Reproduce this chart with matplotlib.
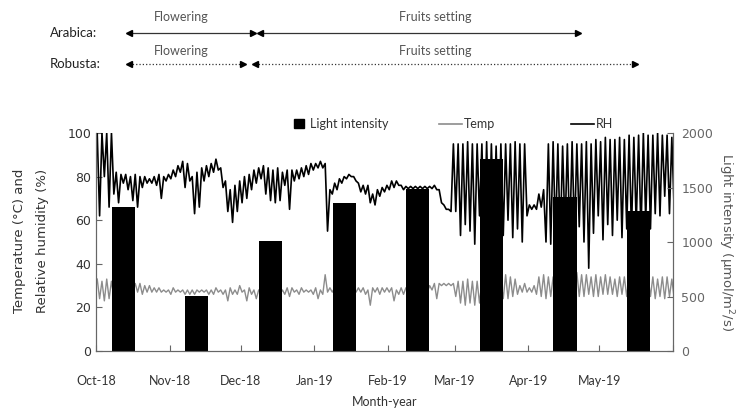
import matplotlib
matplotlib.use("Agg")
import matplotlib.pyplot as plt
import matplotlib.transforms as mtransforms
from matplotlib.lines import Line2D
from matplotlib.patches import Patch
import numpy as np

# RH (%) and Temp (C): high / low per 2-day block, starting 1 Oct 2018
rh_hi = [100, 100, 100, 100, 82,
         81, 81, 80, 81, 80, 80, 79, 80, 81, 80, 81,
         83, 85, 87, 86, 80, 82, 84, 85, 86, 88, 84, 78, 74,
         76, 78, 80, 81, 83, 84, 85, 84, 83, 84, 82, 83,
         83, 83, 84, 85, 86, 86, 87, 86,
         74, 77, 79, 80, 81, 80, 77, 76, 76, 72, 74,
         75, 76, 78, 78, 76, 75.5, 75.5, 75.5, 75.5, 75.5, 75.5,
         76, 74, 67, 65, 95,
         95, 95, 96, 95, 95, 95, 96, 95, 94, 95, 95, 95, 96, 95, 95,
         67, 67, 72, 74,
         95, 96, 95, 94, 95, 96, 95, 95, 96, 95,
         97, 96, 98, 97, 97, 98, 97,
         99, 98, 99, 100, 99, 99, 100, 99, 99, 98]
rh_lo = [62, 80, 66, 72, 68,
         77, 74, 69, 66, 75, 77, 77, 76, 70, 78, 79,
         80, 82, 75, 78, 63, 66, 78, 80, 82, 83, 75, 64, 59,
         64, 68, 70, 74, 77, 79, 72, 69, 68, 69, 76, 65,
         78, 79, 80, 81, 83, 84, 84, 55,
         72, 74, 77, 79, 80, 78, 73, 72, 68, 67, 71,
         73, 74, 75, 76, 74, 74.5, 74.5, 74.5, 74.5, 74.5, 74.5,
         74, 68, 65, 64, 64,
         53, 58, 55, 49, 62, 50, 52, 55, 50, 53, 60, 52, 56, 50, 62,
         65, 65, 66, 50,
         49, 52, 50, 55, 51, 53, 57, 50, 38, 54,
         62, 51, 58, 53, 60, 52, 56,
         55, 58, 54, 60, 56, 63, 62, 71, 63, 64]
temp_hi = [33, 32, 33, 32, 30, 30, 30, 30,
           31, 31, 30, 30, 29, 29, 28, 28, 29, 28, 28, 28,
           28, 28, 28, 28, 28, 29, 28, 28, 29, 28, 30, 28, 29, 28,
           28, 28, 28, 28, 28,
           28, 29, 29, 28, 29, 28, 28, 29, 28, 35,
           29, 29, 29, 29, 29, 29, 29, 29, 28, 29, 29, 29,
           29, 29, 28, 29, 29, 29, 29, 29, 29,
           30, 31, 31, 31, 31, 31, 32, 32, 33, 32, 32,
           32, 32, 32, 32, 32,
           35, 34, 33, 30, 31, 29, 30, 34, 35, 34,
           34, 34, 34, 34, 34,
           36, 35, 35, 34, 35, 34, 35, 34, 33, 34,
           34, 34, 34, 34, 34, 34,
           34, 33, 34, 34, 33]
temp_lo = [24, 23, 24, 25, 27, 27, 27, 27,
           27, 26, 27, 27, 27, 27, 27, 26, 27, 27, 26, 26,
           26, 27, 27, 26, 26, 27, 26, 23, 26, 26, 27, 23, 26, 24,
           26, 26, 26, 26, 26,
           26, 25, 27, 26, 27, 27, 26, 24, 26, 27,
           27, 27, 27, 27, 27, 27, 27, 26, 21, 27, 26, 27,
           27, 23, 26, 26, 27, 27, 27, 27, 27,
           28, 24, 30, 30, 30, 25, 22, 21, 22, 21, 22,
           24, 24, 24, 24, 24,
           24, 25, 26, 27, 27, 27, 26, 25, 24, 25,
           25, 25, 25, 25, 25,
           25, 25, 26, 25, 25, 26, 26, 26, 25, 26,
           25, 25, 25, 25, 25, 25,
           24, 25, 24, 25, 24]

# monthly light intensity (umol/m2/s)
light_dates = ["2018-10-12T12", "2018-11-12T12", "2018-12-13T12", "2019-01-13T12",
               "2019-02-13T12", "2019-03-16T12", "2019-04-16T12", "2019-05-17T12"]
light = [1324, 505, 1012, 1355, 1489, 1764, 1410, 1284]

month_ticks = ["2018-10-01", "2018-11-01", "2018-12-01", "2019-01-01", "2019-02-01",
               "2019-03-01", "2019-04-01", "2019-05-01", "2019-06-01"]
month_labels = ["Oct-18", "Nov-18", "Dec-18", "Jan-19", "Feb-19", "Mar-19",
                "Apr-19", "May-19", ""]

# growth stages: label, start, end, label position
arabica = [("Flowering", "2018-10-15", "2018-12-06", "2018-11-06"),
           ("Fruits setting", "2018-12-09", "2019-04-22", "2019-02-21")]
robusta = [("Flowering", "2018-10-15", "2018-12-02", "2018-11-06"),
           ("Fruits setting", "2018-12-07", "2019-05-16", "2019-02-21")]

start = np.datetime64("2018-10-01T00")


def zigzag(hi, lo):
    hi = np.asarray(hi, float)
    lo = np.asarray(lo, float)
    k = np.arange(len(hi))
    t = np.empty(2 * len(hi), dtype="timedelta64[h]")
    t[0::2] = (k * 48 + 12).astype("timedelta64[h]")
    t[1::2] = (k * 48 + 36).astype("timedelta64[h]")
    v = np.empty(2 * len(hi))
    v[0::2] = hi
    v[1::2] = lo
    return start + t, v


fig = plt.figure(figsize=(7.37, 4.09), dpi=100)
ax = fig.add_axes([0.1303, 0.1418, 0.7829, 0.533])
ax2 = ax.twinx()

tx, tv = zigzag(temp_hi, temp_lo)
rx, rv = zigzag(rh_hi, rh_lo)
ax.plot(tx, tv, color="#8c8c8c", lw=1.0)
ax.plot(rx, rv, color="black", lw=1.2)

ax2.bar(np.array(light_dates, dtype="datetime64[h]"), light, width=9.7,
        color="black")

xt = np.array(month_ticks, dtype="datetime64[D]")
ax.set_xlim(xt[0], xt[-1])
ax.set_xticks(xt)
ax.set_xticklabels(month_labels, fontsize=9, color="#333333", family="Lato")
ax.set_ylim(0, 100)
ax.set_yticks(range(0, 101, 20))
ax2.set_ylim(0, 2000)
ax2.set_yticks(range(0, 2001, 500))

for a in (ax, ax2):
    a.tick_params(direction="in", length=4, color="#666666")
    for s in a.spines.values():
        s.set_color("#666666")
    a.spines["top"].set_visible(False)
ax.tick_params(axis="y", labelsize=9, labelcolor="#333333")
ax.tick_params(axis="x", pad=17)
ax2.tick_params(axis="y", labelsize=9, labelcolor="#666666", pad=6)

ax.set_xlabel("Month-year", fontsize=9, family="Lato", color="#333333", labelpad=7)
fig.text(0.027, 0.41, "Temperature (\u00b0C) and", rotation=90, fontsize=9.5,
         ha="center", va="center", color="#333333")
fig.text(0.057, 0.41, "Relative humidity (%)", rotation=90, fontsize=9.5,
         ha="center", va="center", color="#333333")
ax2.set_ylabel("Light intensity (\u03bcmol/m$^{2}$/s)", rotation=270, fontsize=9.5,
               color="#555555", labelpad=16)

# legends above the plot
leg_y = 1 - 124 / 409
l1 = fig.legend(handles=[Patch(color="black", label="Light intensity")],
                loc="center left", bbox_to_anchor=(283 / 737, leg_y), frameon=False,
                handlelength=0.8, handleheight=0.8, handletextpad=0.5,
                prop={"family": "Lato", "size": 9})
l2 = fig.legend(handles=[Line2D([], [], color="#8c8c8c", lw=1.2, label="Temp")],
                loc="center left", bbox_to_anchor=(428 / 737, leg_y), frameon=False,
                handlelength=1.8, handletextpad=0.2, prop={"family": "Lato", "size": 9})
l3 = fig.legend(handles=[Line2D([], [], color="black", lw=1.2, label="RH")],
                loc="center left", bbox_to_anchor=(560 / 737, leg_y), frameon=False,
                handlelength=1.8, handletextpad=0.2, prop={"family": "Lato", "size": 9})
for lg in (l1, l2, l3):
    for t in lg.get_texts():
        t.set_color("#333333")

# growth stage arrows
trans = mtransforms.blended_transform_factory(ax.transData, fig.transFigure)
rows = [("Arabica:", arabica, "-", 1 - 33 / 409, 1 - 17 / 409),
        ("Robusta:", robusta, ":", 1 - 64 / 409, 1 - 51 / 409)]
for name, phases, ls, ya, yl in rows:
    fig.text(50 / 737, ya, name, fontsize=9.5, family="Lato", va="center", color="#222222")
    for label, d0, d1, dm in phases:
        x0 = np.datetime64(d0)
        x1 = np.datetime64(d1)
        ax.plot([x0, x1], [ya, ya], transform=trans, clip_on=False, color="#333333",
                lw=0.9, ls=ls)
        ax.plot([x0], [ya], transform=trans, clip_on=False, marker="<", ms=4.5,
                color="black", ls="none")
        ax.plot([x1], [ya], transform=trans, clip_on=False, marker=">", ms=4.5,
                color="black", ls="none")
        ax.text(np.datetime64(dm), yl, label, transform=trans, ha="center", va="center",
                fontsize=9, family="Lato", color="#555555")

fig.savefig("out.png", dpi=100)
